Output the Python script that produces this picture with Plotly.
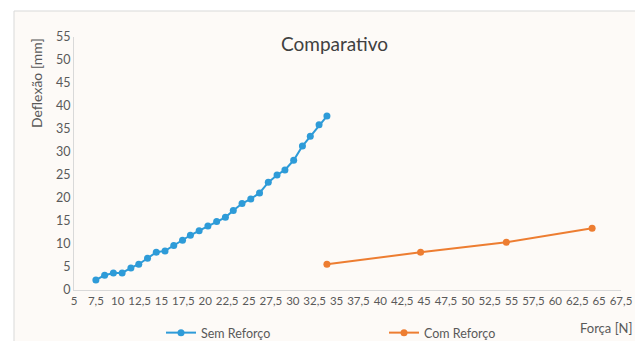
import plotly.graph_objects as go

# Sem Reforço: force [N] and deflection [mm]
forca_sem = [7.5, 8.5, 9.5, 10.5, 11.5, 12.4, 13.4, 14.4, 15.4, 16.4, 17.4, 18.3, 19.3, 20.3,
             21.3, 22.3, 23.2, 24.2, 25.2, 26.2, 27.2, 28.2, 29.1, 30.1, 31.1, 32.0, 33.0, 33.9]
deflexao_sem = [2.2, 3.2, 3.7, 3.7, 4.8, 5.6, 6.9, 8.2, 8.5, 9.7, 10.8, 11.9, 12.9, 13.9,
                14.9, 15.8, 17.3, 18.8, 19.8, 21.1, 23.4, 25.0, 26.1, 28.2, 31.3, 33.4, 35.9, 37.8]

# Com Reforço
forca_com = [33.9, 44.6, 54.4, 64.2]
deflexao_com = [5.6, 8.2, 10.4, 13.4]

x_ticks = [5 + 2.5 * i for i in range(26)]
x_tick_text = [("%g" % v).replace(".", ",") for v in x_ticks]

W, H = 635, 341
ML, MR, MT, MB = 74, 14, 37, 51
pw, ph = W - ML - MR, H - MT - MB


def px(x):
    return (x - ML) / pw


def py(y):
    return (H - MB - y) / ph


FONT = "Lato"
TXT = "#595959"
BLUE = "#2e9bd8"
ORANGE = "#ed7d31"

fig = go.Figure()
fig.add_trace(go.Scatter(x=forca_sem, y=deflexao_sem, mode="lines+markers", name="Sem Reforço",
                         line=dict(color=BLUE, width=2), marker=dict(color=BLUE, size=7)))
fig.add_trace(go.Scatter(x=forca_com, y=deflexao_com, mode="lines+markers", name="Com Reforço",
                         line=dict(color=ORANGE, width=2), marker=dict(color=ORANGE, size=7)))

# chart area panel with a thin frame
fig.add_shape(type="rect", xref="paper", yref="paper", x0=px(14), x1=px(640), y0=py(350), y1=py(11),
              fillcolor="#fdfaf7", line=dict(color="#d9d9d9", width=1), layer="below")

fig.add_annotation(text="Comparativo", xref="paper", yref="paper", x=px(334), y=py(44),
                   showarrow=False, font=dict(family=FONT, size=19, color="#404040"),
                   xanchor="center", yanchor="middle")
fig.add_annotation(text="Deflexão [mm]", xref="paper", yref="paper", x=px(37), y=py(83),
                   showarrow=False, textangle=-90, font=dict(family=FONT, size=14, color=TXT),
                   xanchor="center", yanchor="middle")
fig.add_annotation(text="Força [N]", xref="paper", yref="paper", x=px(606), y=py(328),
                   showarrow=False, font=dict(family=FONT, size=13, color=TXT),
                   xanchor="center", yanchor="middle")

fig.update_layout(
    width=W, height=H,
    margin=dict(l=ML, r=MR, t=MT, b=MB, autoexpand=False),
    paper_bgcolor="white", plot_bgcolor="rgba(0,0,0,0)",
    font=dict(family=FONT, size=12, color=TXT),
    showlegend=True,
    legend=dict(orientation="h", xref="container", yref="container",
                x=384 / W, y=1 - 333 / H, xanchor="center", yanchor="middle",
                entrywidth=178, entrywidthmode="pixels", bgcolor="rgba(0,0,0,0)",
                font=dict(family=FONT, size=12.5, color=TXT), itemwidth=30),
    xaxis=dict(range=[5, 67.5], tickvals=x_ticks, ticktext=x_tick_text, tickangle=0,
               showgrid=False, zeroline=False, showline=True, linecolor="#d9d9d9", linewidth=1,
               ticks="", tickfont=dict(family=FONT, size=11.5, color=TXT)),
    yaxis=dict(range=[0, 55], dtick=5, showgrid=False, zeroline=False, showline=True,
               linecolor="#d9d9d9", linewidth=1, ticks="",
               tickfont=dict(family=FONT, size=12.5, color=TXT)),
)

fig.write_html("out.html")
